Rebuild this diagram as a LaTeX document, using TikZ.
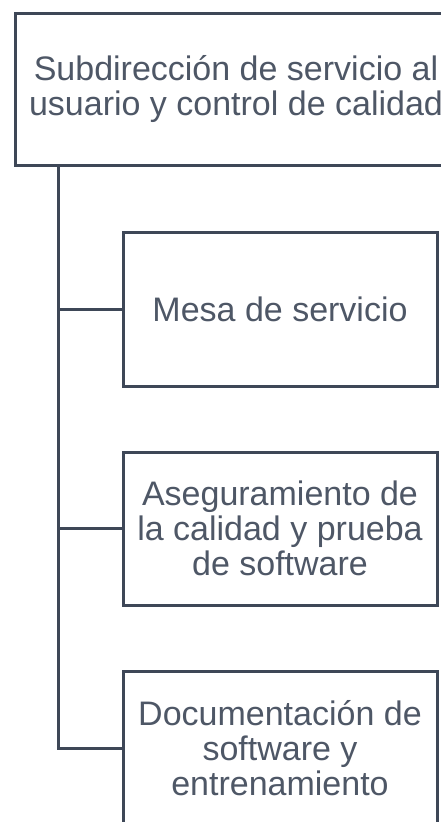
\documentclass[tikz,border=0pt]{standalone}
\usepackage{fontspec}
\setmainfont{Liberation Sans}
\definecolor{linec}{HTML}{3E4757}
\definecolor{textc}{HTML}{4E5766}
\begin{document}
\begin{tikzpicture}[x=1pt,y=-1pt,
  box/.style={draw=linec, line width=3pt, fill=white, inner sep=0pt, text=textc,
    font=\fontsize{34}{35}\selectfont, align=center},
  conn/.style={draw=linec, line width=3pt}]
\useasboundingbox (0,0) rectangle (441,822);
\clip (0,0) rectangle (441,822);
\fill[white] (0,0) rectangle (441,822);
\node[box, minimum width=442pt, minimum height=152pt] (top) at (236,89)
  {Subdirección de servicio al\\usuario y control de calidad};
\node[box, minimum width=314pt, minimum height=154pt] (b1) at (280,309) {Mesa de servicio};
\node[box, minimum width=314pt, minimum height=153pt] (b2) at (280,528.5)
  {Aseguramiento de\\la calidad y prueba\\de software};
\node[box, minimum width=314pt, minimum height=154pt] (b3) at (280,748)
  {Documentación de\\software y\\entrenamiento};
\coordinate (trunk) at ([xshift=45pt]top.south west);
\draw[conn] (trunk) |- (b3.west);
\draw[conn] (b1.west) -- (b1.west -| trunk);
\draw[conn] (b2.west) -- (b2.west -| trunk);
\end{tikzpicture}
\end{document}
